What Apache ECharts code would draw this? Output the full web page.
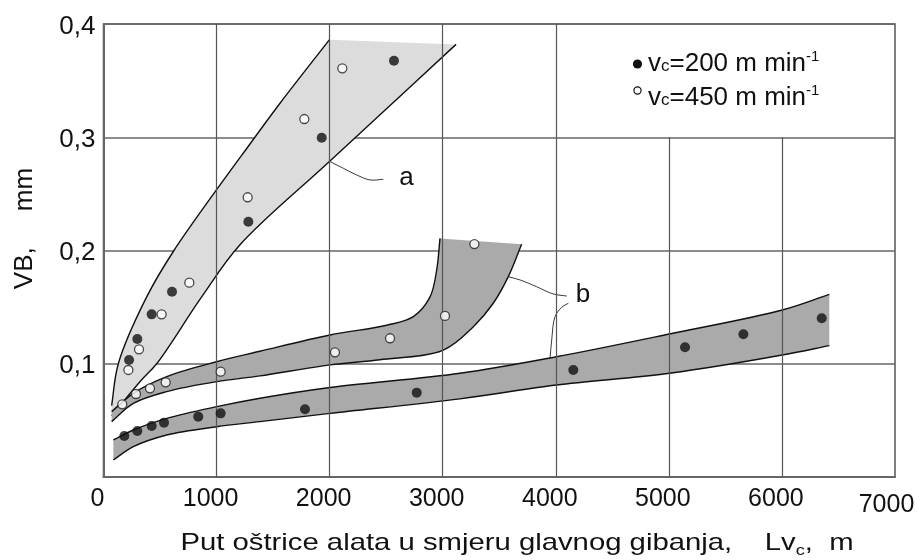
<!DOCTYPE html>
<html><head><meta charset="utf-8">
<script src="https://cdn.jsdelivr.net/npm/echarts@6/dist/echarts.min.js"></script>
<style>html,body{margin:0;padding:0;background:#fff}#c{width:919px;height:560px}</style>
</head><body><div id="c"></div>
<script>
// ---- data ----
const xTicks = [0, 1000, 2000, 3000, 4000, 5000, 6000, 7000];
const yTicks = [0, 0.1, 0.2, 0.3, 0.4];
const vGridFull = [1000, 2000, 3000, 4000];
const vGridPartial = [5000, 6000];

// band a (light)
const aUpper = [[72,0.063],[131,0.1],[382,0.159],[623,0.2],[1339,0.3],[1561,0.33],[1997,0.386]];
const aLower = [[72,0.054],[330,0.085],[470,0.1],[868,0.159],[1207,0.205],[2003,0.279],[3118,0.382]];
// band b upper (450 m/min)
const bUpper = [[72,0.0577],[264,0.0739],[559,0.0886],[1001,0.1018],[1384,0.111],[2003,0.1254],[2505,0.134],[2740,0.1416],[2888,0.159],[2947,0.183],[2976,0.2107]];
const bLower = [[72,0.0489],[264,0.065],[559,0.0754],[1001,0.0842],[1384,0.0893],[2003,0.099],[2445,0.1035],[3005,0.112],[3271,0.1327],[3447,0.1534],[3580,0.1769],[3698,0.2055]];
// band b lower (200 m/min)
const cUpper = [[87,0.0327],[264,0.0415],[559,0.0518],[1001,0.0621],[1384,0.0695],[2003,0.079],[3153,0.0916],[4005,0.1062],[5004,0.1263],[6003,0.1475],[6419,0.1613]];
const cLower = [[87,0.015],[264,0.0268],[559,0.0371],[1001,0.0444],[1384,0.0489],[2003,0.0562],[3153,0.069],[4005,0.0812],[5004,0.0916],[6003,0.1077],[6419,0.116]];

// measured points
const filled200 = [[184,0.0362],[299,0.0406],[426,0.045],[535,0.048],[838,0.0533],[1036,0.0562],[1782,0.0598],[2770,0.0745],[4155,0.0945],[5143,0.1145],[5659,0.126],[6352,0.1401],[226,0.1033],[299,0.1219],[426,0.1436],[606,0.1636],[1281,0.2254],[1930,0.2996],[2569,0.3676]];
const open450 = [[166,0.0642],[287,0.0733],[411,0.0783],[550,0.0836],[1036,0.093],[2047,0.1101],[2534,0.1225],[3020,0.1422],[3280,0.2057],[220,0.0945],[314,0.1127],[514,0.1436],[759,0.1716],[1275,0.247],[1776,0.3161],[2112,0.3609]];

// annotation leaders
const leaderA = [[2003,0.2785],[2121,0.2726],[2239,0.2667],[2357,0.2623],[2475,0.2629]];
const leaderB1 = [[3580,0.1769],[3684,0.174],[3831,0.168],[3978,0.1616],[4097,0.1598]];
const leaderB2 = [[3949,0.1048],[3964,0.121],[3993,0.1415],[4052,0.1498],[4111,0.1534]];
const labelA = ['a', 2680, 0.264];
const labelB = ['b', 4240, 0.1607];

const FONT = '"Liberation Sans", Arial, sans-serif';

// centripetal Catmull-Rom -> cubic Bezier path
function smoothD(P, move){
  const f = v => v.toFixed(2);
  let d = (move ? 'M' : 'L') + f(P[0][0]) + ' ' + f(P[0][1]);
  const dist = (a, b) => Math.hypot(a[0]-b[0], a[1]-b[1]);
  for (let i = 0; i < P.length - 1; i++){
    const p1 = P[i], p2 = P[i+1];
    const p0 = P[i-1], p3 = P[i+2];
    const l2 = dist(p1, p2), a2 = Math.sqrt(l2);
    let c1, c2;
    if (!p0) { c1 = [p1[0] + (p2[0]-p1[0])/3, p1[1] + (p2[1]-p1[1])/3]; }
    else {
      const l1 = dist(p0, p1), a1 = Math.sqrt(l1);
      const den = 3*a1*(a1+a2), k = 2*l1 + 3*a1*a2 + l2;
      c1 = [(l1*p2[0] - l2*p0[0] + k*p1[0]) / den, (l1*p2[1] - l2*p0[1] + k*p1[1]) / den];
    }
    if (!p3) { c2 = [p2[0] - (p2[0]-p1[0])/3, p2[1] - (p2[1]-p1[1])/3]; }
    else {
      const l3 = dist(p2, p3), a3 = Math.sqrt(l3);
      const den = 3*a3*(a3+a2), k = 2*l3 + 3*a3*a2 + l2;
      c2 = [(l3*p1[0] - l2*p3[0] + k*p2[0]) / den, (l3*p1[1] - l2*p3[1] + k*p2[1]) / den];
    }
    d += ' C' + f(c1[0]) + ' ' + f(c1[1]) + ' ' + f(c2[0]) + ' ' + f(c2[1]) + ' ' + f(p2[0]) + ' ' + f(p2[1]);
  }
  return d;
}

function bandSeries(upper, lower, fill, z){
  return {
    type: 'custom', coordinateSystem: 'cartesian2d', z: z, silent: true,
    data: [[upper[0][0], upper[0][1]]],
    renderItem: function(params, api){
      const U = upper.map(p => api.coord(p));
      const L = lower.map(p => api.coord(p));
      const Lr = L.slice().reverse();
      const fillD = smoothD(U, true) + ' ' + smoothD(Lr, false) + ' Z';
      return { type: 'group', children: [
        { type: 'path', shape: { pathData: fillD }, style: { fill: fill, stroke: null } },
        { type: 'path', shape: { pathData: smoothD(U, true) }, style: { fill: null, stroke: '#111', lineWidth: 1.4 } },
        { type: 'path', shape: { pathData: smoothD(L, true) }, style: { fill: null, stroke: '#111', lineWidth: 1.4 } }
      ]};
    }
  };
}

function leaderSeries(lines, labels){
  return {
    type: 'custom', coordinateSystem: 'cartesian2d', z: 4, silent: true,
    data: [[0, 0]],
    renderItem: function(params, api){
      const ch = lines.map(l => ({ type: 'path', shape: { pathData: smoothD(l.map(p => api.coord(p)), true) }, style: { fill: null, stroke: '#222', lineWidth: 0.9 } }));
      labels.forEach(lb => {
        const c = api.coord([lb[1], lb[2]]);
        ch.push({ type: 'text', x: c[0], y: c[1], style: { text: lb[0], fontSize: 26, fontFamily: FONT, fill: '#111', align: 'center', verticalAlign: 'middle' } });
      });
      return { type: 'group', children: ch };
    }
  };
}

const legendRich = { v: { fontSize: 26, fontFamily: FONT, lineHeight: 30 }, c: { fontSize: 17, fontFamily: FONT, verticalAlign: 'middle', lineHeight: 17, padding: [4, 0, 0, 0] }, s: { fontSize: 15, fontFamily: FONT, verticalAlign: 'top', lineHeight: 14 } };

const chart = echarts.init(document.getElementById('c'));
chart.setOption({
  animation: false,
  backgroundColor: '#fff',
  grid: { left: 103.5, right: 24, top: 24, bottom: 83, show: true, borderColor: '#555', borderWidth: 1.5, backgroundColor: 'transparent' },
  xAxis: {
    type: 'value', min: xTicks[0], max: xTicks[xTicks.length-1], interval: 1000,
    axisLine: { show: true, lineStyle: { color: '#666', width: 2 } },
    axisTick: { show: false },
    splitLine: { show: false },
    axisLabel: {
      margin: 10, color: '#111', fontSize: 25, fontFamily: FONT,
      formatter: v => v === 7000 ? '{f|' + v + '}' : '{n|' + v + '}',
      rich: {
        n: { fontSize: 25, fontFamily: FONT, color: '#111', padding: [0, 12, 0, 0] },
        f: { fontSize: 25, fontFamily: FONT, color: '#111', padding: [6, 17, 0, 0] }
      }
    }
  },
  yAxis: {
    type: 'value', min: yTicks[0], max: yTicks[yTicks.length-1], interval: 0.1,
    axisLine: { show: true, lineStyle: { color: '#666', width: 2 } },
    axisTick: { show: false },
    splitLine: { show: true, lineStyle: { color: '#666', width: 1.5 } },
    axisLabel: {
      margin: 8, color: '#111', fontSize: 26, fontFamily: FONT,
      formatter: v => v === 0 ? '' : '{n|' + v.toFixed(1).replace('.', ',') + '}',
      rich: { n: { fontSize: 26, fontFamily: FONT, color: '#111', padding: [5, 0, 0, 0] } }
    }
  },
  graphic: [
    { type: 'circle', shape: { cx: 637.5, cy: 64, r: 4.6 }, style: { fill: '#111' } },
    { type: 'circle', shape: { cx: 637.5, cy: 90.5, r: 3.6 }, style: { fill: '#fff', stroke: '#111', lineWidth: 1.2 } },
    { type: 'text', x: 648, y: 64, style: { text: '{v|v}{c|c}{v|=200 m min}{s|-1}', fill: '#111', align: 'left', verticalAlign: 'middle', rich: legendRich } },
    { type: 'text', x: 648, y: 98, style: { text: '{v|v}{c|c}{v|=450 m min}{s|-1}', fill: '#111', align: 'left', verticalAlign: 'middle', rich: legendRich } },
    { type: 'text', x: 517, y: 543, scaleX: 1.22, style: {
        text: '{t|Put oštrice alata u smjeru glavnog gibanja,    Lv}{c|c}{t|,  m}', fill: '#111', align: 'center', verticalAlign: 'middle',
        rich: { t: { fontSize: 24, fontFamily: FONT, lineHeight: 30 }, c: { fontSize: 15, fontFamily: FONT, verticalAlign: 'bottom', lineHeight: 24 } }
    } },
    { type: 'text', x: 25, y: 228.5, rotation: Math.PI / 2, style: {
        text: 'VB,     mm', fill: '#111', fontSize: 26, fontFamily: FONT, align: 'center', verticalAlign: 'middle'
    } }
  ],
  series: [
    { type: 'line', data: [], z: 1, silent: true,
      markLine: { silent: true, symbol: ['none', 'none'], label: { show: false }, animation: false,
        lineStyle: { color: '#555', width: 1.2, type: 'solid' },
        data: vGridFull.map(x => [{ coord: [x, 0] }, { coord: [x, 0.4] }]).concat(vGridPartial.map(x => [{ coord: [x, 0] }, { coord: [x, 0.3] }]))
      } },
    bandSeries(aUpper, aLower, '#dcdcdc', 2),
    bandSeries(bUpper, bLower, '#aaaaaa', 3),
    bandSeries(cUpper, cLower, '#aaaaaa', 3),
    leaderSeries([leaderA, leaderB1, leaderB2], [labelA, labelB]),
    { type: 'scatter', data: filled200, z: 5, symbol: 'circle', symbolSize: 10, itemStyle: { color: '#111' }, silent: true },
    { type: 'scatter', data: open450, z: 5, symbol: 'circle', symbolSize: 9, itemStyle: { color: '#fff', borderColor: '#222', borderWidth: 1.3 }, silent: true }
  ]
});
</script></body></html>
